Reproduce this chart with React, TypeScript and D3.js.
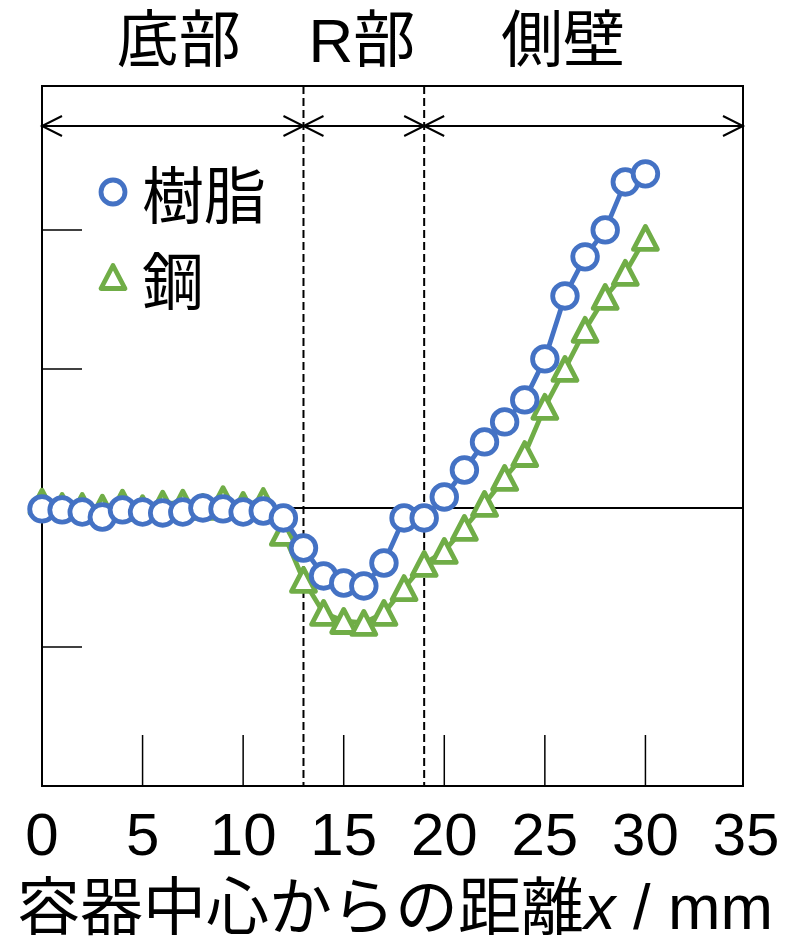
import React from "react";
import * as d3 from "d3";

// Distance from the container centre (mm)
const distance = [
  0, 1, 2, 3, 4, 5, 6, 7, 8, 9, 10, 11, 12, 13, 14, 15, 16, 17, 18, 19, 20,
  21, 22, 23, 24, 25, 26, 27, 28, 29, 30,
];

// Resin container
const resin = [
  -0.007, -0.014, -0.029, -0.065, -0.014, -0.029, -0.036, -0.029, 0.0, -0.007,
  -0.029, -0.022, -0.072, -0.288, -0.489, -0.54, -0.561, -0.396, -0.072, -0.072,
  0.079, 0.273, 0.475, 0.619, 0.777, 1.072, 1.525, 1.806, 2.0, 2.345, 2.403,
];

// Steel container
const steel = [
  0.045, 0.014, 0.014, 0.002, 0.038, -0.002, 0.031, 0.038, 0.007, 0.063, 0.022,
  0.05, -0.18, -0.518, -0.755, -0.813, -0.827, -0.755, -0.576, -0.403, -0.309,
  -0.144, 0.029, 0.216, 0.388, 0.727, 1.0, 1.281, 1.518, 1.691, 1.942,
];

const xTicks = [0, 5, 10, 15, 20, 25, 30, 35];
const yTicks = [-1, 1, 2];

// Region boundaries along x and their labels
const regionBounds = [0, 13, 19, 35];
const regionLabels = ["底部", "R部", "側壁"];
const regionLabelX = [6.8, 15.9, 25.9];

const seriesNames = ["樹脂", "鋼"];

const W = 799;
const H = 941;
const left = 42;
const right = 743;
const top = 86;
const bottom = 786;

const BLUE = "#4472C4";
const GREEN = "#70AD47";
const FONT = "'Liberation Sans', Arial, 'Noto Sans CJK JP', sans-serif";

const triPath = "M0,-11.5 L12,11.5 L-12,11.5 Z";

function arrowHead(x: number, y: number, dir: number) {
  // open chevron whose tip is at (x, y); dir = +1 points right, -1 points left
  const len = 20;
  const half = 10;
  return `M${x - dir * len},${y - half} L${x},${y} L${x - dir * len},${y + half}`;
}

export default function App() {
  const x = d3.scaleLinear().domain([0, 35]).range([left, 746]);
  const y = d3.scaleLinear().domain([-2, 3.035]).range([bottom, top]);

  const line = d3
    .line<number>()
    .x((_, i) => x(distance[i]))
    .y((d) => y(d));

  const arrowY = 126;
  const bx = (b: number) => Math.min(x(b), right);

  return (
    <div style={{ position: "absolute", left: 0, top: 0 }}>
      <svg width={W} height={H} style={{ display: "block" }} fontFamily={FONT}>
        <rect x={0} y={0} width={W} height={H} fill="#fff" />

        {/* region labels */}
        {regionLabels.map((t, i) => (
          <text
            key={t}
            x={x(regionLabelX[i])}
            y={62}
            fontSize={62}
            textAnchor="middle"
            fill="#000"
          >
            {t}
          </text>
        ))}

        {/* zero line */}
        <line x1={left} x2={right} y1={y(0)} y2={y(0)} stroke="#000" strokeWidth={2} />

        {/* y ticks */}
        {yTicks.map((t) => (
          <line key={t} x1={left} x2={left + 40} y1={y(t)} y2={y(t)} stroke="#000" strokeWidth={1.5} />
        ))}

        {/* x ticks */}
        {xTicks.slice(1, -1).map((t) => (
          <line key={t} x1={x(t)} x2={x(t)} y1={bottom} y2={bottom - 51} stroke="#000" strokeWidth={1.5} />
        ))}

        {/* region boundaries */}
        {regionBounds.slice(1, -1).map((b) => (
          <line
            key={b}
            x1={x(b)}
            x2={x(b)}
            y1={top}
            y2={bottom}
            stroke="#000"
            strokeWidth={2}
            strokeDasharray="8 4"
          />
        ))}

        {/* region arrows */}
        {regionBounds.slice(0, -1).map((b, i) => {
          const a = bx(b);
          const c = bx(regionBounds[i + 1]);
          return (
            <g key={b} stroke="#000" strokeWidth={2} fill="none">
              <line x1={a} x2={c} y1={arrowY} y2={arrowY} />
              <path d={arrowHead(a, arrowY, -1)} />
              <path d={arrowHead(c, arrowY, 1)} />
            </g>
          );
        })}

        {/* plot frame */}
        <rect
          x={left}
          y={top}
          width={right - left}
          height={bottom - top}
          fill="none"
          stroke="#000"
          strokeWidth={2}
        />

        {/* steel series */}
        <path d={line(steel) || ""} fill="none" stroke={GREEN} strokeWidth={4.8} strokeLinejoin="round" />
        {steel.map((v, i) => (
          <path
            key={i}
            d={triPath}
            transform={`translate(${x(distance[i])},${y(v)})`}
            fill="#fff"
            stroke={GREEN}
            strokeWidth={4.8}
            strokeLinejoin="round"
          />
        ))}

        {/* resin series */}
        <path d={line(resin) || ""} fill="none" stroke={BLUE} strokeWidth={4.8} strokeLinejoin="round" />
        {resin.map((v, i) => (
          <circle
            key={i}
            cx={x(distance[i])}
            cy={y(v)}
            r={12.3}
            fill="#fff"
            stroke={BLUE}
            strokeWidth={4.8}
          />
        ))}

        {/* legend */}
        <circle cx={113} cy={192} r={12} fill="#fff" stroke={BLUE} strokeWidth={4.8} />
        <text x={142} y={219} fontSize={62} fill="#000">
          {seriesNames[0]}
        </text>
        <path d={triPath} transform="translate(113,277)" fill="#fff" stroke={GREEN} strokeWidth={4.8} strokeLinejoin="round" />
        <text x={142} y={305} fontSize={62} fill="#000">
          {seriesNames[1]}
        </text>

        {/* x tick labels */}
        {xTicks.map((t) => (
          <text key={t} x={x(t)} y={855} fontSize={60} textAnchor="middle" fill="#000">
            {t}
          </text>
        ))}

        {/* x axis title */}
        <text x={395} y={929} fontSize={63} textAnchor="middle" fill="#000">
          容器中心からの距離
          <tspan fontStyle="italic">x</tspan>
          {" / mm"}
        </text>
      </svg>
    </div>
  );
}
